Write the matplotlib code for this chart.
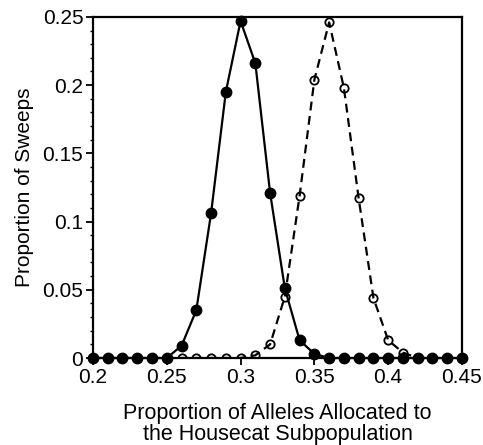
import matplotlib.pyplot as plt
from matplotlib.ticker import MultipleLocator

plt.rcParams['font.family'] = ['Liberation Sans', 'DejaVu Sans']

x = [0.20, 0.21, 0.22, 0.23, 0.24, 0.25, 0.26, 0.27, 0.28, 0.29, 0.30, 0.31, 0.32,
     0.33, 0.34, 0.35, 0.36, 0.37, 0.38, 0.39, 0.40, 0.41, 0.42, 0.43, 0.44, 0.45]
filled = [0, 0, 0, 0, 0, 0, 0.009, 0.035, 0.106, 0.195, 0.247, 0.216, 0.121,
          0.051, 0.013, 0.003, 0, 0, 0, 0, 0, 0, 0, 0, 0, 0]
open_ = [0, 0, 0, 0, 0, 0, 0, 0, 0, 0, 0, 0.002, 0.010,
         0.045, 0.119, 0.204, 0.246, 0.198, 0.117, 0.044, 0.013, 0.004, 0, 0, 0, 0]

xticks = [0.2, 0.25, 0.3, 0.35, 0.4, 0.45]
xlabels = ['0.2', '0.25', '0.3', '0.35', '0.4', '0.45']
yticks = [0, 0.05, 0.1, 0.15, 0.2, 0.25]
ylabels = ['0', '0.05', '0.1', '0.15', '0.2', '0.25']

fig = plt.figure(figsize=(4.83, 4.45), dpi=100)
ax = fig.add_axes([0.1925, 0.1955, 0.764, 0.7665])

ax.plot(x, open_, '--', color='black', lw=1.6, dashes=(4, 2.5),
        marker='o', ms=6, mfc='none', mec='black', mew=1.3, zorder=2)
ax.plot(x, filled, '-', color='black', lw=1.6,
        marker='o', ms=7.5, mfc='black', mec='black', zorder=3, clip_on=False)

ax.set_xlim(0.2, 0.45)
ax.set_ylim(0, 0.25)
ax.set_xticks(xticks)
ax.set_xticklabels(xlabels)
ax.set_yticks(yticks)
ax.set_yticklabels(ylabels)
ax.yaxis.set_minor_locator(MultipleLocator(0.01))

ax.tick_params(axis='both', which='major', labelsize=15, direction='out', length=5, width=1.3, pad=2)
ax.tick_params(axis='y', which='minor', direction='out', length=2.5, width=1)
for spine in ax.spines.values():
    spine.set_linewidth(1.6)

ax.set_xlabel('Proportion of Alleles Allocated to\nthe Housecat Subpopulation', fontsize=15.5,
              linespacing=1.0, labelpad=12)
ax.set_ylabel('Proportion of Sweeps', fontsize=15, labelpad=6)

fig.savefig('out.png', dpi=100)
